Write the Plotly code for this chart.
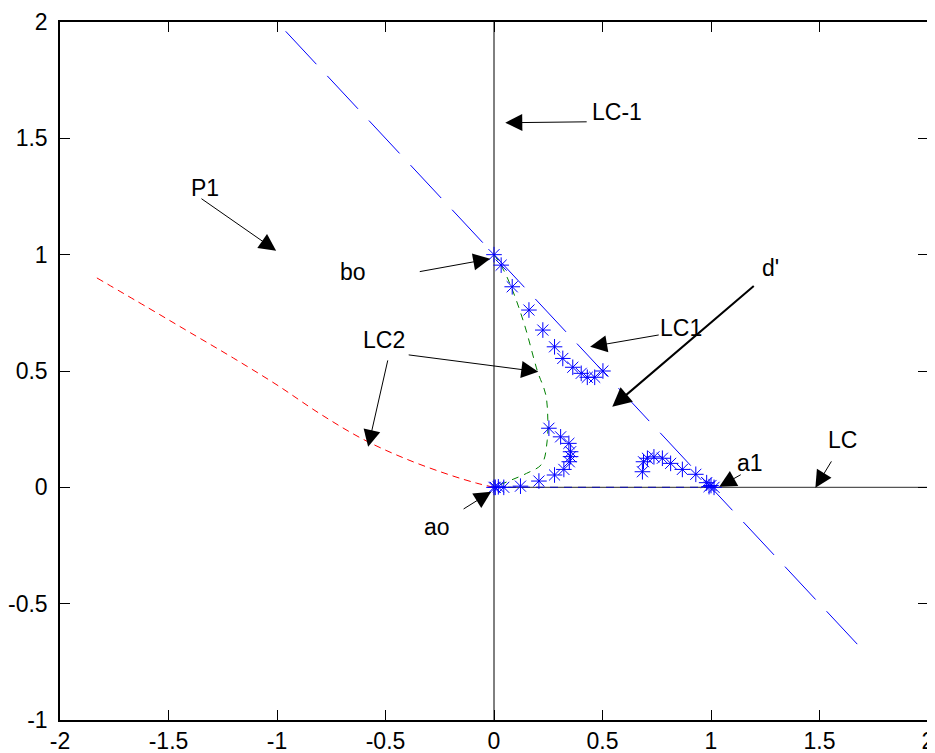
import plotly.graph_objects as go

# ---- data ----
x_ticks = [-2, -1.5, -1, -0.5, 0, 0.5, 1, 1.5, 2]
x_tick_labels = ["-2", "-1.5", "-1", "-0.5", "0", "0.5", "1", "1.5", "2"]
y_ticks = [-1, -0.5, 0, 0.5, 1, 1.5, 2]
y_tick_labels = ["-1", "-0.5", "0", "0.5", "1", "1.5", "2"]

# reference axes lines
vline_x = [0, 0]
vline_y = [-1, 2]
hline_x = [0, 2]
hline_y = [0, 0]

# LC-1 line (x + y = 1)
lc_line_x = [-0.96, 1.70]
lc_line_y = [1.96, -0.70]

# blue dashed segment on y = 0
seg_x = [0, 1]
seg_y = [0, 0]

# red dashed curve (P1 side)
red_x = [-1.83, -1.6, -1.4, -1.2, -1.0, -0.8, -0.6, -0.4, -0.2, -0.08, 0]
red_y = [0.90, 0.775, 0.665, 0.555, 0.44, 0.315, 0.205, 0.12, 0.052, 0.018, 0]

# green dashed curve
green_x = [0, 0.035, 0.08, 0.14, 0.20, 0.238, 0.248, 0.245, 0.22, 0.15, 0.076, 0.02, 0]
green_y = [1.0, 0.95, 0.86, 0.70, 0.50, 0.40, 0.29, 0.20, 0.10, 0.06, 0.03, 0.008, 0]

# star points
star_x = [0.0, 0.033, 0.084, 0.161, 0.225, 0.279, 0.317, 0.363, 0.402, 0.430, 0.464, 0.502,
          0.0, 0.006, 0.02, 0.045, 0.122, 0.207, 0.279, 0.322, 0.347, 0.353, 0.353, 0.345, 0.307, 0.253,
          0.684, 0.689, 0.707, 0.737, 0.776, 0.814, 0.868, 0.930, 0.980, 0.991, 1.0, 1.014]
star_y = [1.0, 0.955, 0.862, 0.762, 0.676, 0.604, 0.554, 0.516, 0.490, 0.473, 0.473, 0.500,
          0.0, 0.0, 0.002, 0.0, 0.005, 0.027, 0.053, 0.077, 0.110, 0.132, 0.153, 0.189, 0.217, 0.254,
          0.067, 0.110, 0.125, 0.131, 0.125, 0.103, 0.077, 0.056, 0.020, 0.003, 0.008, 0.0]

# annotations: label text positions
labels = ["LC-1", "P1", "bo", "d'", "LC1", "LC2", "a1", "LC", "ao"]
label_x = [0.568, -1.331, -0.649, 1.273, 0.863, -0.506, 1.181, 1.605, -0.262]
label_y = [1.614, 1.288, 0.926, 0.944, 0.686, 0.634, 0.105, 0.204, -0.170]

# arrows: tail -> tip
arrow_tail_x = [0.434, -1.355, -0.349, 1.204, 0.766, -0.400, -0.488, 1.144, 1.559, -0.147]
arrow_tail_y = [1.571, 1.245, 0.926, 0.871, 0.656, 0.570, 0.552, 0.058, 0.118, -0.097]
arrow_tip_x = [0.052, -1.004, -0.0175, 0.545, 0.443, 0.204, -0.580, 1.038, 1.481, -0.013]
arrow_tip_y = [1.567, 1.017, 0.982, 0.346, 0.604, 0.497, 0.174, 0.002, -0.002, -0.019]
arrow_widths = [1, 1, 1, 2, 1, 1, 1, 1, 1, 1]

FONT = "Arial"
FS = 23

fig = go.Figure()

fig.add_trace(go.Scatter(x=vline_x, y=vline_y, mode="lines",
                         line=dict(color="black", width=1), hoverinfo="skip"))
fig.add_trace(go.Scatter(x=hline_x, y=hline_y, mode="lines",
                         line=dict(color="#555555", width=1.3), hoverinfo="skip"))
fig.add_trace(go.Scatter(x=seg_x, y=seg_y, mode="lines",
                         line=dict(color="#1a1aa0", width=1.3, dash="8px,6px"), hoverinfo="skip"))
fig.add_trace(go.Scatter(x=lc_line_x, y=lc_line_y, mode="lines",
                         line=dict(color="blue", width=1, dash="45px,16px"), hoverinfo="skip"))
fig.add_trace(go.Scatter(x=red_x, y=red_y, mode="lines", line_shape="spline",
                         line=dict(color="red", width=1, dash="7px,5px"), hoverinfo="skip"))
fig.add_trace(go.Scatter(x=green_x, y=green_y, mode="lines", line_shape="spline",
                         line=dict(color="green", width=1, dash="7px,6px"), hoverinfo="skip"))
fig.add_trace(go.Scatter(x=star_x, y=star_y, mode="markers",
                         marker=dict(symbol="asterisk-open", size=13, color="blue",
                                     line=dict(color="blue", width=1)),
                         hoverinfo="skip"))

annotations = []
for t, lx, ly in zip(labels, label_x, label_y):
    annotations.append(dict(x=lx, y=ly, xref="x", yref="y", text=t, showarrow=False,
                            font=dict(family=FONT, size=FS, color="black")))
for tx, ty, hx, hy, w in zip(arrow_tail_x, arrow_tail_y, arrow_tip_x, arrow_tip_y, arrow_widths):
    annotations.append(dict(x=hx, y=hy, ax=tx, ay=ty, xref="x", yref="y", axref="x", ayref="y",
                            text="", showarrow=True, arrowhead=2,
                            arrowsize=3.4 if w == 1 else 1.9, arrowwidth=w, arrowcolor="black"))

# page body has an 8px default margin, so the figure is sized to fit inside the window
fig.update_layout(
    width=927, height=745,
    margin=dict(l=52, r=7, t=14, b=33, autoexpand=False),
    paper_bgcolor="white", plot_bgcolor="white",
    showlegend=False,
    annotations=annotations,
    font=dict(family=FONT, size=FS, color="black"),
)
fig.update_xaxes(range=[-2, 2], tickvals=x_ticks, ticktext=x_tick_labels, automargin=False,
                 showgrid=False, zeroline=False, showline=True, linecolor="black", linewidth=1.5,
                 mirror="allticks", ticks="inside", ticklen=10, tickcolor="black",
                 tickfont=dict(family=FONT, size=FS), ticklabelstandoff=0)
fig.update_yaxes(range=[-1, 2], tickvals=y_ticks, ticktext=y_tick_labels, automargin=False,
                 showgrid=False, zeroline=False, showline=True, linecolor="black", linewidth=1.5,
                 mirror="allticks", ticks="inside", ticklen=10, tickcolor="black",
                 tickfont=dict(family=FONT, size=FS), ticklabelstandoff=6)

fig.write_html("out.html")
